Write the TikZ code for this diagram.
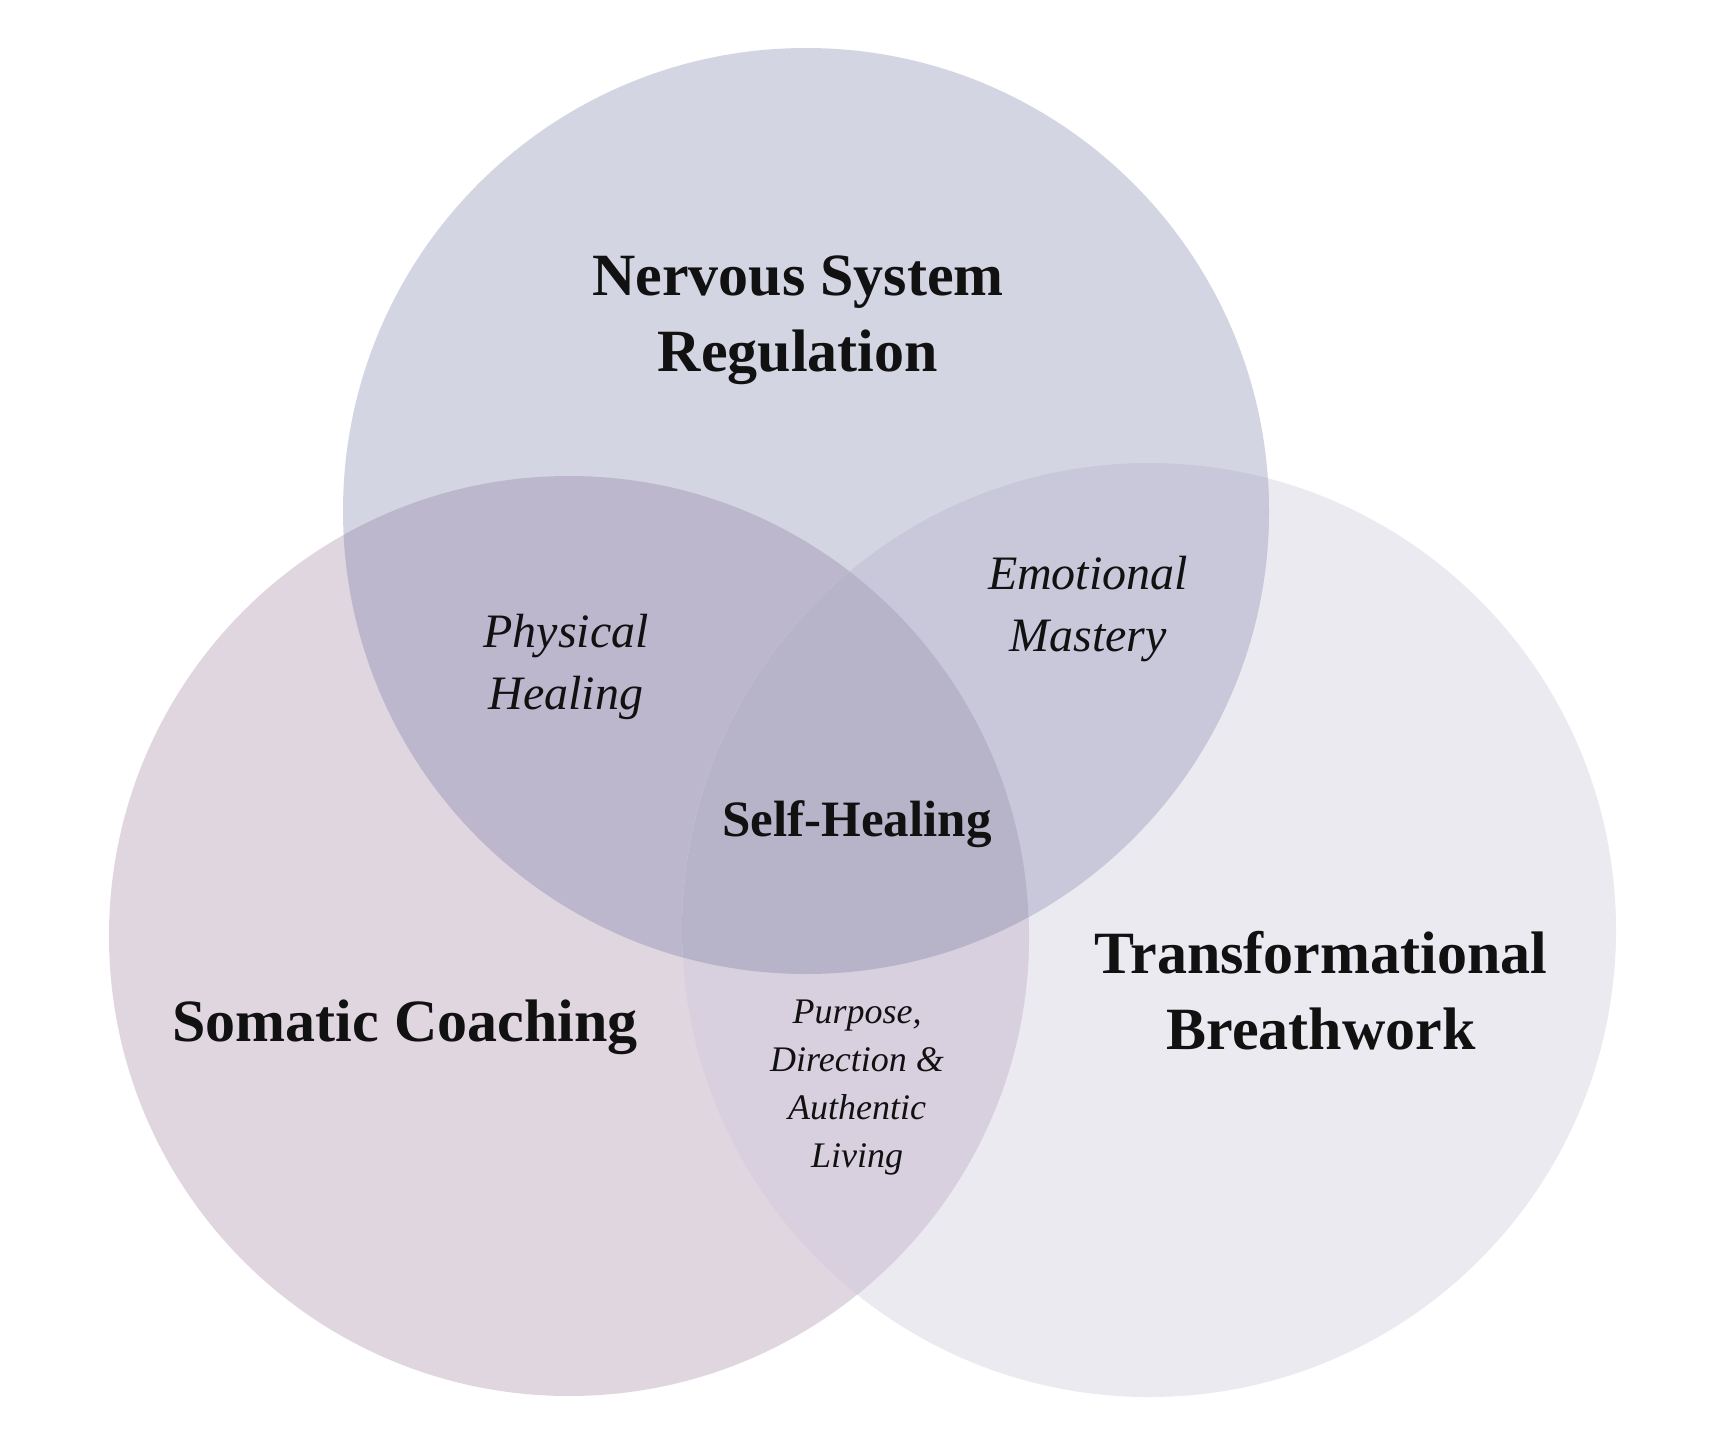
\documentclass[tikz,border=0pt]{standalone}
\usepackage{fontspec}
\setmainfont{Liberation Serif}
\definecolor{cT}{HTML}{D4D5E2}
\definecolor{cB}{HTML}{E0D6E0}
\definecolor{cR}{HTML}{EBEAF1}
\definecolor{cTB}{HTML}{BCB7CD}
\definecolor{cTR}{HTML}{C9C8DA}
\definecolor{cBR}{HTML}{D8D0DF}
\definecolor{cTBR}{HTML}{B7B4CA}
\definecolor{ink}{HTML}{111111}
\begin{document}
\begin{tikzpicture}[x=1pt,y=-1pt,
  big/.style={font=\bfseries\fontsize{60}{76}\selectfont, align=center, text=ink, inner sep=0pt},
  mid/.style={font=\bfseries\fontsize{51}{62}\selectfont, align=center, text=ink, inner sep=0pt},
  ital/.style={font=\itshape\fontsize{48}{62}\selectfont, align=center, text=ink, inner sep=0pt},
  small/.style={font=\itshape\fontsize{36}{48}\selectfont, align=center, text=ink, inner sep=0pt}]
\useasboundingbox (0,0) rectangle (1730,1440);
\fill[white] (0,0) rectangle (1730,1440);
% base circles
\fill[cR] (1149,930) circle[radius=467pt];
\fill[cB] (569,936) circle[radius=460pt];
\fill[cT] (806,511) circle[radius=463pt];
% pairwise overlaps
\begin{scope}
  \clip (806,511) circle[radius=463pt];
  \fill[cTB] (569,936) circle[radius=460pt];
\end{scope}
\begin{scope}
  \clip (806,511) circle[radius=463pt];
  \fill[cTR] (1149,930) circle[radius=467pt];
\end{scope}
\begin{scope}
  \clip (569,936) circle[radius=460pt];
  \fill[cBR] (1149,930) circle[radius=467pt];
\end{scope}
% triple overlap
\begin{scope}
  \clip (806,511) circle[radius=463pt];
  \clip (569,936) circle[radius=460pt];
  \fill[cTBR] (1149,930) circle[radius=467pt];
\end{scope}
% labels
\node[big] (nsr) at (798,320) {Nervous System\\Regulation};
\node[big] (tb) at (1321,991) {Transformational\\Breathwork};
\node[big] (sc) at (405,1027) {Somatic Coaching};
\node[mid] (sh) at (857,824) {Self-Healing};
\node[ital] (ph) at (566,667) {Physical\\Healing};
\node[ital] (em) at (1088,609) {Emotional\\Mastery};
\node[small] (pd) at (857,1088) {Purpose,\\Direction \&\\Authentic\\Living};
\end{tikzpicture}
\end{document}
